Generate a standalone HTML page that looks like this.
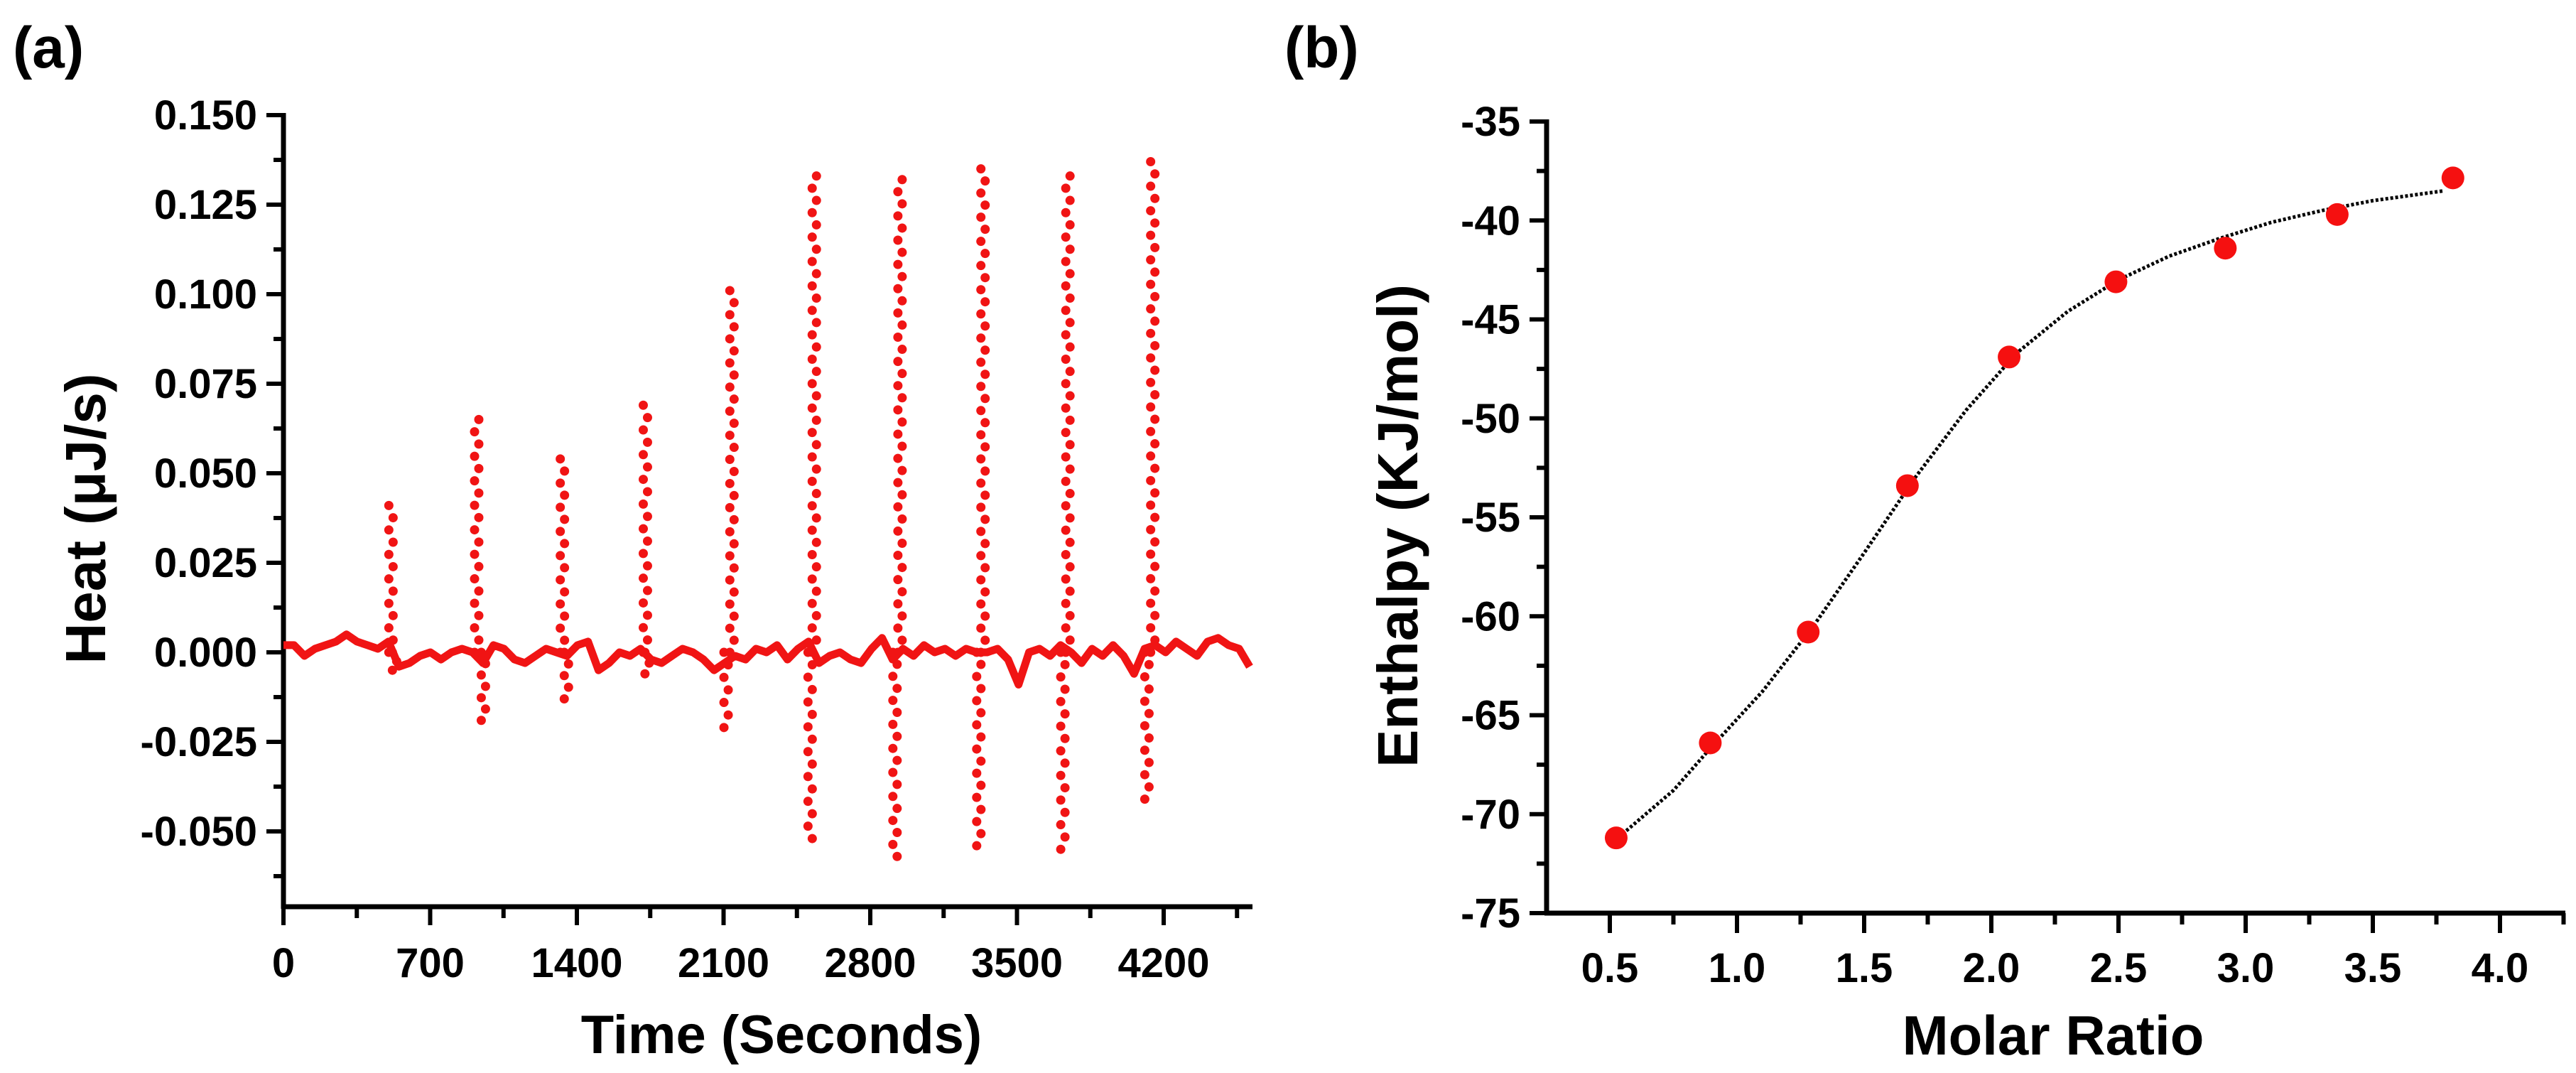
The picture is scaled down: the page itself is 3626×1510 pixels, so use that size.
<!DOCTYPE html>
<html><head><meta charset="utf-8"><style>
html,body{margin:0;padding:0;background:#fff;}
svg{display:block;font-family:"Liberation Sans",Arial,sans-serif;font-weight:bold;}
</style></head><body>
<svg id="fig" width="3626" height="1510" viewBox="0 0 3626 1510" xmlns="http://www.w3.org/2000/svg">
<text x="18" y="95" font-size="82">(a)</text>
<text x="1808" y="95" font-size="82">(b)</text>
<g id="pa"></g>
<g id="pb"></g>
</svg>
<script>
// ---- Panel (a) data ----
const aYTicks=[-0.050,-0.025,0.000,0.025,0.050,0.075,0.100,0.125,0.150];
const aYTickLabels=["-0.050","-0.025","0.000","0.025","0.050","0.075","0.100","0.125","0.150"];
const aXTicks=[0,700,1400,2100,2800,3500,4200];
const aXTickLabels=["0","700","1400","2100","2800","3500","4200"];
const spikeTimes=[513,922,1331,1727,2140,2533,2942,3338,3743,4148];
const spikePeaks=[0.041,0.065,0.054,0.069,0.101,0.133,0.132,0.135,0.133,0.137];
const troughTimes=[530,954,1350,1735,2112,2513,2918,3318,3719,4120];
const spikeTroughs=[-0.005,-0.019,-0.013,-0.006,-0.021,-0.052,-0.057,-0.054,-0.055,-0.041];
const baselineEnd=4610;
const baseline=[2,2,-1,1,2,3,5,3,2,1,3,-4,-3,-1,0,-2,0,1,0,-3,2,1,-2,-3,-1,1,0,-1,2,3,-5,-3,0,-1,1,-2,-3,-1,1,0,-2,-5,-3,-1,-2,1,0,2,-2,1,3,-3,-1,0,-2,-3,1,4,-2,1,-1,2,0,1,-1,1,0,0,1,-2,-9,0,1,-1,2,0,-3,1,-1,2,-1,-6,1,2,0,3,1,-1,3,4,2,1,-4];
// ---- Panel (b) data ----
const bYTicks=[-75,-70,-65,-60,-55,-50,-45,-40,-35];
const bYTickLabels=["-75","-70","-65","-60","-55","-50","-45","-40","-35"];
const bXTicks=[0.5,1.0,1.5,2.0,2.5,3.0,3.5,4.0];
const bXTickLabels=["0.5","1.0","1.5","2.0","2.5","3.0","3.5","4.0"];
const ratioX=[0.525,0.895,1.28,1.67,2.07,2.49,2.92,3.36,3.815];
const enthalpyY=[-71.2,-66.4,-60.8,-53.4,-46.9,-43.1,-41.4,-39.7,-37.85];
const fitX=[0.55,0.75,0.9,1.1,1.3,1.5,1.7,1.9,2.1,2.3,2.5,2.7,2.9,3.1,3.3,3.5,3.78];
const fitY=[-71.0,-68.8,-66.6,-63.8,-60.5,-56.8,-53.0,-49.6,-46.7,-44.6,-43.0,-41.8,-40.9,-40.1,-39.5,-39.0,-38.5];

const NS="http://www.w3.org/2000/svg";
function mk(parent,tag,attrs){const e=document.createElementNS(NS,tag);for(const k in attrs)e.setAttribute(k,attrs[k]);parent.appendChild(e);return e;}

const ax=t=>399+t*206.5/700;
const ay=v=>918-v*5040;
const pa=document.getElementById('pa');
const AX0=399,AY1=1276,AY0=162,AX1=1763;
let l;
l=mk(pa,'line',{x1:AX0,y1:AY0-3,x2:AX0,y2:AY1+3,stroke:'#000','stroke-width':7});


l=mk(pa,'line',{x1:AX0-3,y1:AY1,x2:AX1,y2:AY1,stroke:'#000','stroke-width':7});


aYTicks.forEach((v,i)=>{
  const t=mk(pa,'line',{x1:AX0-24,y1:ay(v),x2:AX0,y2:ay(v),stroke:'#000','stroke-width':6});
  
  
  const m=mk(pa,'line',{x1:AX0-14,y1:ay(v-0.0125),x2:AX0,y2:ay(v-0.0125),stroke:'#000','stroke-width':6});
  
  
  const tx=mk(pa,'text',{x:362,y:ay(v)+20,'font-size':58,'text-anchor':'end'});
  tx.textContent=aYTickLabels[i];
  
  
});
aXTicks.forEach((v,i)=>{
  const t=mk(pa,'line',{x1:ax(v),y1:AY1,x2:ax(v),y2:AY1+26,stroke:'#000','stroke-width':6});
  
  
  const m=mk(pa,'line',{x1:ax(v+350),y1:AY1,x2:ax(v+350),y2:AY1+16,stroke:'#000','stroke-width':6});
  
  
  const tx=mk(pa,'text',{x:ax(v),y:1375,'font-size':58,'text-anchor':'middle'});
  tx.textContent=aXTickLabels[i];
  
  
});
let tt=mk(pa,'text',{x:1100,y:1482,'font-size':76,'text-anchor':'middle'});
tt.textContent='Time (Seconds)';


tt=mk(pa,'text',{x:0,y:0,'font-size':80,'text-anchor':'middle',transform:'translate(148,730) rotate(-90)'});
tt.textContent='Heat (\u03bcJ/s)';



const step=baselineEnd/(baseline.length-1);
let pts=baseline.map((b,i)=>ax(i*step).toFixed(1)+','+ay(b/1000).toFixed(1)).join(' ');
const pl=mk(pa,'polyline',{points:pts,fill:'none',stroke:'#f01414','stroke-width':11,'stroke-linejoin':'round'});


spikeTimes.forEach((t,i)=>{
  const g=mk(pa,'g',{fill:'#f01414'});
  
  
  const pk=spikePeaks[i];
  const n=Math.max(8,Math.round(pk/0.0034));
  for(let k=0;k<=n;k++){const v=pk*k/n;mk(g,'circle',{cx:ax(t)+(k%2?3:-3),cy:ay(v),r:6.5});}
  const tr=spikeTroughs[i];
  const m=Math.max(2,Math.round(-tr/0.0034));
  for(let k=0;k<=m;k++){const v=tr*k/m;mk(g,'circle',{cx:ax(troughTimes[i])+(k%2?3:-3),cy:ay(v),r:6.5});}
});

const bx=v=>2266+(v-0.5)*358;
const by=v=>171+(-35-v)*27.85;
const pb=document.getElementById('pb');
const BX0=2177,BY1=1285,BY0=171,BX1=3611;
l=mk(pb,'line',{x1:BX0,y1:BY0-3,x2:BX0,y2:BY1+3,stroke:'#000','stroke-width':7});


l=mk(pb,'line',{x1:BX0-3,y1:BY1,x2:BX1,y2:BY1,stroke:'#000','stroke-width':7});


bYTicks.forEach((v,i)=>{
  const t=mk(pb,'line',{x1:BX0-24,y1:by(v),x2:BX0,y2:by(v),stroke:'#000','stroke-width':6});
  
  
  if(v>-75){const m=mk(pb,'line',{x1:BX0-14,y1:by(v-2.5),x2:BX0,y2:by(v-2.5),stroke:'#000','stroke-width':6});
  
  }
  const tx=mk(pb,'text',{x:2140,y:by(v)+20,'font-size':58,'text-anchor':'end'});
  tx.textContent=bYTickLabels[i];
  
  
});
bXTicks.forEach((v,i)=>{
  const t=mk(pb,'line',{x1:bx(v),y1:BY1,x2:bx(v),y2:BY1+28,stroke:'#000','stroke-width':6});
  
  
  const m=mk(pb,'line',{x1:bx(v+0.25),y1:BY1,x2:bx(v+0.25),y2:BY1+16,stroke:'#000','stroke-width':6});
  
  
  const tx=mk(pb,'text',{x:bx(v),y:1382,'font-size':58,'text-anchor':'middle'});
  tx.textContent=bXTickLabels[i];
  
  
});
tt=mk(pb,'text',{x:2890,y:1484,'font-size':78,'text-anchor':'middle'});
tt.textContent='Molar Ratio';


tt=mk(pb,'text',{x:0,y:0,'font-size':80,'text-anchor':'middle',transform:'translate(1995,740) rotate(-90)'});
tt.textContent='Enthalpy (KJ/mol)';


const fp=mk(pb,'polyline',{points:fitX.map((x,i)=>bx(x).toFixed(1)+','+by(fitY[i]).toFixed(1)).join(' '),fill:'none',stroke:'#000','stroke-width':5,'stroke-dasharray':'4 3'});


ratioX.forEach((x,i)=>{
  const c=mk(pb,'circle',{cx:bx(x),cy:by(enthalpyY[i]),r:16,fill:'#f51010'});
  
  
});
</script>
</body></html>
